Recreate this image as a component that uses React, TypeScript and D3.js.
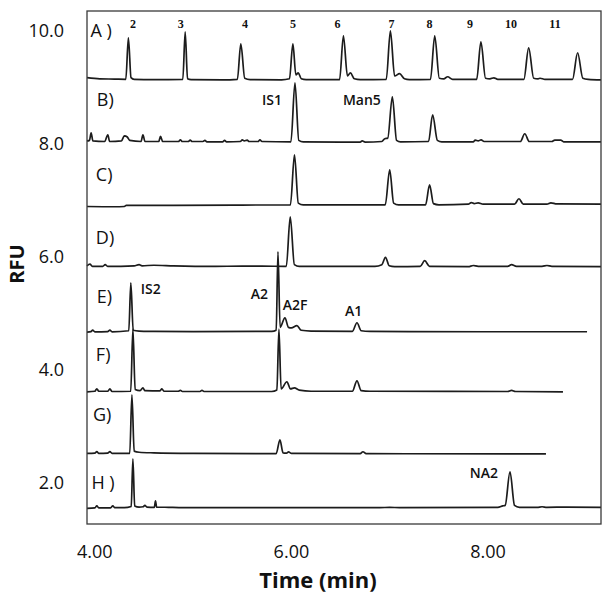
import * as React from "react";
import * as d3 from "d3";

type Pt = [number, number];

// ---- data (time in min, signal in RFU incl. stacking offset) ----
const xTicks = [4, 6, 8];
const yTicks = [2, 4, 6, 8, 10];

const traceA: Pt[] = [
  [3.92, 9.17], [4.05, 9.15], [4.2, 9.145], [4.315, 9.14], [4.341, 9.876], [4.368, 9.17], [4.4, 9.14],
  [4.6, 9.135], [4.895, 9.14], [4.919, 9.982], [4.943, 9.15], [4.98, 9.135],
  [5.3, 9.13], [5.45, 9.14], [5.485, 9.77], [5.525, 9.16], [5.58, 9.135],
  [5.9, 9.13], [5.98, 9.15], [6.015, 9.77], [6.045, 9.22], [6.07, 9.255], [6.1, 9.15], [6.15, 9.135],
  [6.49, 9.135], [6.529, 9.912], [6.57, 9.2], [6.6, 9.255], [6.64, 9.15], [6.7, 9.135],
  [6.965, 9.14], [7.007, 10.0], [7.05, 9.2], [7.1, 9.24], [7.15, 9.15], [7.2, 9.135],
  [7.415, 9.14], [7.458, 9.912], [7.505, 9.16], [7.55, 9.15], [7.59, 9.186], [7.64, 9.14],
  [7.885, 9.14], [7.928, 9.805], [7.975, 9.16], [8.02, 9.15], [8.06, 9.168], [8.1, 9.14],
  [8.365, 9.14], [8.414, 9.699], [8.465, 9.16], [8.51, 9.15], [8.53, 9.16], [8.58, 9.14],
  [8.86, 9.14], [8.912, 9.611], [8.965, 9.16], [9.02, 9.14], [9.15, 9.13],
];

const traceB: Pt[] = [
  [3.92, 8.05], [3.945, 8.06], [3.962, 8.195], [3.98, 8.05], [4.1, 8.04], [4.132, 8.16], [4.15, 8.04],
  [4.27, 8.05], [4.3, 8.14], [4.33, 8.12], [4.355, 8.06], [4.47, 8.04], [4.489, 8.16], [4.51, 8.04],
  [4.65, 8.04], [4.668, 8.13], [4.69, 8.04], [4.85, 8.04], [4.87, 8.07], [4.89, 8.04], [4.95, 8.04],
  [4.97, 8.065], [4.99, 8.04], [5.1, 8.04], [5.12, 8.06], [5.14, 8.035], [5.3, 8.035], [5.32, 8.06],
  [5.34, 8.035], [5.48, 8.04], [5.5, 8.07], [5.52, 8.05], [5.55, 8.065], [5.57, 8.04], [5.66, 8.04],
  [5.68, 8.07], [5.7, 8.04], [5.995, 8.035], [6.036, 9.08], [6.075, 8.06], [6.12, 8.035],
  [6.7, 8.03], [6.72, 8.05], [6.75, 8.03], [6.92, 8.04], [6.95, 8.09], [6.98, 8.1], [7.027, 8.832],
  [7.07, 8.06], [7.11, 8.035], [7.395, 8.04], [7.437, 8.513], [7.485, 8.06], [7.53, 8.035],
  [7.85, 8.035], [7.87, 8.065], [7.9, 8.05], [7.93, 8.07], [7.96, 8.04], [8.33, 8.04], [8.374, 8.177],
  [8.42, 8.04], [8.65, 8.04], [8.68, 8.065], [8.74, 8.065], [8.77, 8.035], [9.15, 8.035],
];

const traceC: Pt[] = [
  [3.92, 6.89], [4.2, 6.885], [4.3, 6.89], [4.32, 6.91], [4.8, 6.91], [5.5, 6.915], [5.99, 6.92],
  [6.031, 7.805], [6.07, 6.95], [6.12, 6.92], [6.955, 6.92], [7.0, 7.54], [7.04, 6.95], [7.09, 6.92],
  [7.365, 6.92], [7.406, 7.274], [7.445, 6.94], [7.5, 6.92], [7.8, 6.93], [7.83, 6.96], [7.86, 6.94],
  [7.9, 6.955], [7.95, 6.93], [8.27, 6.93], [8.315, 7.027], [8.36, 6.93], [8.6, 6.93], [8.64, 6.955],
  [8.7, 6.935], [9.15, 6.93],
];

const traceD: Pt[] = [
  [3.92, 5.84], [3.95, 5.87], [3.975, 5.83], [4.08, 5.83], [4.105, 5.86], [4.13, 5.83], [4.4, 5.84],
  [4.45, 5.86], [4.48, 5.84], [4.6, 5.85], [4.8, 5.84], [5.2, 5.83], [5.5, 5.835], [5.7, 5.835],
  [5.948, 5.83], [5.988, 6.708], [6.03, 5.86], [6.08, 5.83], [6.85, 5.83], [6.92, 5.86], [6.957, 5.99],
  [6.995, 5.84], [7.05, 5.825], [7.31, 5.83], [7.356, 5.93], [7.405, 5.83], [7.8, 5.825], [7.85, 5.845],
  [7.9, 5.83], [8.2, 5.83], [8.24, 5.86], [8.29, 5.83], [8.55, 5.83], [8.6, 5.845], [8.65, 5.83],
  [9.15, 5.825],
];

const traceE: Pt[] = [
  [3.92, 4.665], [3.96, 4.675], [3.978, 4.7], [4.0, 4.67], [4.13, 4.675], [4.153, 4.7], [4.175, 4.67],
  [4.345, 4.69], [4.366, 5.54], [4.39, 4.7], [4.45, 4.685], [4.6, 4.68], [5.0, 4.675], [5.8, 4.68],
  [5.845, 4.7], [5.863, 6.088], [5.885, 4.75], [5.934, 4.92], [5.97, 4.75], [6.0, 4.74], [6.056, 4.78],
  [6.1, 4.7], [6.2, 4.685], [6.62, 4.68], [6.667, 4.832], [6.71, 4.69], [6.8, 4.68], [7.2, 4.675],
  [8.0, 4.673], [9.008, 4.673],
];

const traceF: Pt[] = [
  [3.92, 3.61], [4.0, 3.62], [4.02, 3.664], [4.04, 3.62], [4.13, 3.62], [4.153, 3.66], [4.175, 3.615],
  [4.365, 3.62], [4.387, 4.72], [4.41, 3.65], [4.46, 3.63], [4.489, 3.68], [4.51, 3.63], [4.66, 3.625],
  [4.682, 3.66], [4.705, 3.62], [4.85, 3.62], [4.87, 3.635], [4.89, 3.615], [5.07, 3.615],
  [5.09, 3.635], [5.11, 3.615], [5.8, 3.615], [5.852, 3.64], [5.873, 4.72], [5.895, 3.66],
  [5.954, 3.788], [5.99, 3.66], [6.03, 3.68], [6.08, 3.64], [6.2, 3.62], [6.62, 3.62], [6.667, 3.805],
  [6.71, 3.63], [6.8, 3.62], [8.2, 3.615], [8.24, 3.635], [8.28, 3.615], [8.763, 3.61],
];

const traceG: Pt[] = [
  [3.92, 2.52], [4.0, 2.525], [4.02, 2.55], [4.04, 2.52], [4.13, 2.525], [4.153, 2.55], [4.175, 2.52],
  [4.355, 2.52], [4.377, 3.558], [4.4, 2.56], [4.45, 2.54], [4.6, 2.53], [5.0, 2.52], [5.845, 2.515],
  [5.883, 2.761], [5.915, 2.53], [5.95, 2.525], [5.97, 2.545], [6.0, 2.52], [6.7, 2.515],
  [6.728, 2.549], [6.76, 2.515], [8.59, 2.51],
];

const traceH: Pt[] = [
  [3.92, 1.545], [4.0, 1.555], [4.02, 1.593], [4.04, 1.555], [4.16, 1.555], [4.183, 1.593], [4.2, 1.56],
  [4.3, 1.56], [4.37, 1.58], [4.387, 2.425], [4.405, 1.59], [4.45, 1.57], [4.49, 1.575], [4.509, 1.6],
  [4.53, 1.57], [4.605, 1.565], [4.617, 1.681], [4.628, 1.57], [4.75, 1.565], [4.9, 1.56],
  [6.9, 1.56], [7.0, 1.565], [7.1, 1.56], [8.1, 1.565], [8.15, 1.59], [8.175, 1.6], [8.224, 2.195],
  [8.27, 1.6], [8.32, 1.565], [8.5, 1.565], [8.55, 1.575], [8.6, 1.565], [8.8, 1.57], [9.15, 1.565],
];

const traces = [traceA, traceB, traceC, traceD, traceE, traceF, traceG, traceH];

const sampleNames = ["A )", "B)", "C)", "D)", "E)", "F)", "G)", "H )"];
const sampleLabelAt: Pt[] = [
  [3.955, 9.885], [4.02, 8.664], [4.01, 7.336], [4.01, 6.221],
  [4.02, 5.177], [4.01, 4.15], [3.98, 3.088], [3.965, 1.885],
];

const ladderNames = ["2", "3", "4", "5", "6", "7", "8", "9", "10", "11"];
const ladderLabelTimes = [4.387, 4.875, 5.527, 6.015, 6.469, 7.019, 7.406, 7.817, 8.234, 8.682];
const ladderLabelLevel = 10.053;

const glycanNames = ["IS1", "Man5", "IS2", "A2", "A2F", "A1", "NA2"];
const glycanLabelAt: Pt[] = [
  [5.7, 8.69], [6.524, 8.69], [4.468, 5.345], [5.585, 5.257],
  [5.913, 5.062], [6.545, 4.956], [7.814, 2.088],
];

// ---- layout ----
const W = 614;
const H = 602;
const plot = { left: 87, right: 601, top: 11, bottom: 524 };
const font = '"Open Sans", "Liberation Sans", sans-serif';

export default function App() {
  const x = d3.scaleLinear().domain([3.92, 9.15]).range([plot.left, plot.right]);
  const y = d3.scaleLinear().domain([1.27, 10.35]).range([plot.bottom, plot.top]);

  const line = d3
    .line<Pt>()
    .x((d) => x(d[0]))
    .y((d) => y(d[1]))
    .curve(d3.curveMonotoneX);

  return (
    <svg
      width={W}
      height={H}
      style={{ position: "absolute", left: 0, top: 0, background: "#fff" }}
      fontFamily={font}
    >
      <rect x={0} y={0} width={W} height={H} fill="#fff" />

      {traces.map((t, i) => (
        <path
          key={i}
          d={line(t) ?? ""}
          fill="none"
          stroke="#1c1c1c"
          strokeWidth={1.7}
          strokeLinejoin="round"
        />
      ))}

      <rect
        x={plot.left}
        y={plot.top}
        width={plot.right - plot.left}
        height={plot.bottom - plot.top}
        fill="none"
        stroke="#3a3a3a"
        strokeWidth={1.3}
      />

      {/* y tick labels */}
      {yTicks.map((v) => (
        <text key={v} x={64} y={y(v)} dy="0.36em" textAnchor="end" fontSize={18} fill="#111">
          {d3.format(".1f")(v)}
        </text>
      ))}

      {/* x tick labels */}
      {xTicks.map((v) => (
        <text key={v} x={x(v)} y={558} textAnchor="middle" fontSize={18} fill="#111">
          {d3.format(".2f")(v)}
        </text>
      ))}

      <text x={318} y={588} textAnchor="middle" fontSize={22} fontWeight={700} fill="#111">
        Time (min)
      </text>
      <text
        transform="translate(24,264) rotate(-90)"
        textAnchor="middle"
        fontSize={20}
        fontWeight={700}
        fill="#111"
      >
        RFU
      </text>

      {/* sample labels */}
      {sampleNames.map((s, i) => (
        <text key={s} x={x(sampleLabelAt[i][0])} y={y(sampleLabelAt[i][1])} fontSize={18} fill="#111">
          {s}
        </text>
      ))}

      {/* ladder numbers on trace A */}
      {ladderNames.map((s, i) => (
        <text
          key={s}
          x={x(ladderLabelTimes[i])}
          y={y(ladderLabelLevel)}
          textAnchor="middle"
          fontSize={12}
          fontWeight={700}
          fontFamily='"Liberation Serif", "DejaVu Serif", serif'
          fill="#111"
        >
          {s}
        </text>
      ))}

      {/* glycan peak labels */}
      {glycanNames.map((s, i) => (
        <text
          key={s}
          x={x(glycanLabelAt[i][0])}
          y={y(glycanLabelAt[i][1])}
          fontSize={14}
          fontWeight={600}
          fill="#111"
        >
          {s}
        </text>
      ))}
    </svg>
  );
}
